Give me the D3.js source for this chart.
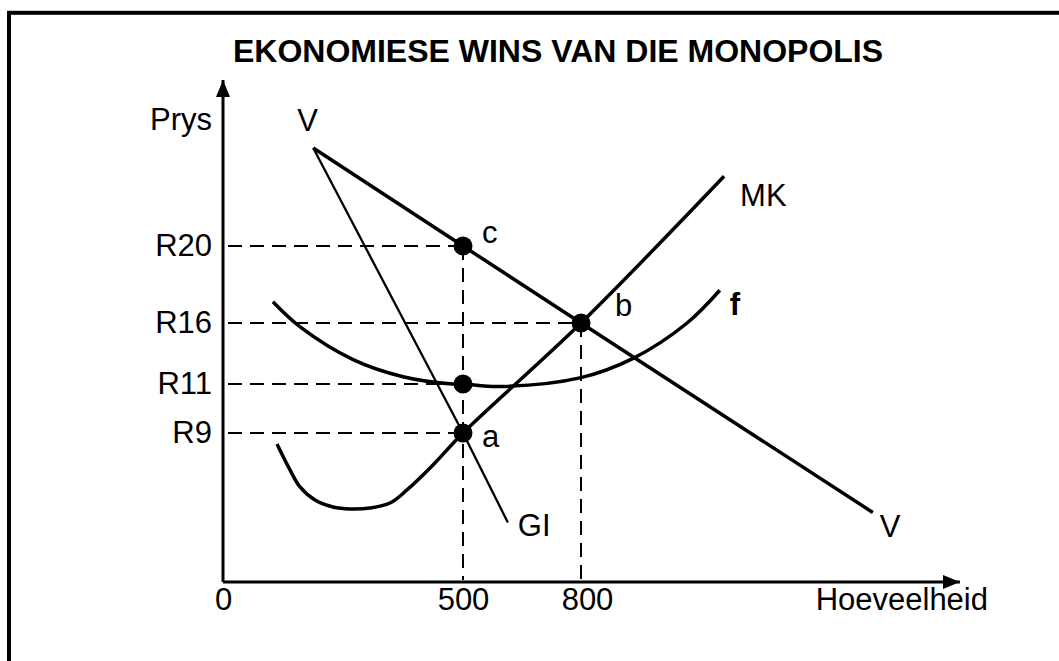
<!DOCTYPE html>
<html><head><meta charset="utf-8">
<script src="https://cdn.jsdelivr.net/npm/d3@7"></script>
<style>body{margin:0;background:#fff;} svg{display:block;}</style>
</head><body><svg id="chart" width="1059" height="661"></svg>
<script>
// ---------- data ----------
const chartTitle = "EKONOMIESE WINS VAN DIE MONOPOLIS";
const xAxisLabel = "Hoeveelheid";
const yAxisLabel = "Prys";
const xTickValues = [0, 500, 800];
const xTickLabels = ["0", "500", "800"];
const yTickValues = [20, 16, 11, 9];
const yTickLabels = ["R20", "R16", "R11", "R9"];
const xMax = 1600, yMax = 30;

// curves as [quantity, price]
const demandV = [[188, 25.9], [500, 20], [800, 16], [1416, 4.2]];
const marginalRevenueGI = [[188, 25.9], [500, 9], [614, 3.6]];
const marginalCostMK = [[112.5, 8.34], [139.6, 6.77], [160.4, 5.74], [191.7, 4.95], [229.2, 4.53], [264.6, 4.41], [306.3, 4.47], [347.9, 4.77], [383.3, 5.56], [437.5, 7.07], [500, 9], [800, 16], [1102, 24.2]];
const averageCostF = [[104, 17.1], [160, 15.7], [271, 13.0], [375, 11.6], [479, 11.0], [500, 11], [594, 10.9], [797, 11.5], [910, 13.1], [1024, 16], [1093, 17.7]];
const keyPoints = [
  {q: 500, p: 20, label: "c"},
  {q: 800, p: 16, label: "b"},
  {q: 500, p: 11, label: ""},
  {q: 500, p: 9, label: "a"}
];

// ---------- drawing ----------
const svg = d3.select("#chart");
const FONT = "'Liberation Sans', Arial, Helvetica, sans-serif";
const FS = 31;

const x = d3.scaleLinear().domain([0, 500, 800, xMax]).range([223, 463, 581, 960]);
const y = d3.scaleLinear().domain([0, 9, 11, 16, 20, yMax]).range([582, 433, 384, 323, 246, 80]);

// frame
svg.append("rect").attr("x", 9).attr("y", 12.8).attr("width", 1200).attr("height", 800)
  .attr("fill", "none").attr("stroke", "#000").attr("stroke-width", 4);

// title
svg.append("text").attr("x", 558).attr("y", 62).attr("text-anchor", "middle")
  .attr("font-family", FONT).attr("font-weight", "bold").attr("font-size", 32)
  .text(chartTitle);

// arrow marker
const defs = svg.append("defs");
defs.append("marker").attr("id", "arrow").attr("viewBox", "0 0 17 14")
  .attr("refX", 17).attr("refY", 7).attr("markerWidth", 17).attr("markerHeight", 14)
  .attr("markerUnits", "userSpaceOnUse").attr("orient", "auto")
  .append("path").attr("d", "M0,0 L17,7 L0,14 Z").attr("fill", "#000");

// axis lines
svg.append("line").attr("x1", x(0)).attr("y1", y(0)).attr("x2", x(xMax)).attr("y2", y(0))
  .attr("stroke", "#000").attr("stroke-width", 3).attr("marker-end", "url(#arrow)");
svg.append("line").attr("x1", x(0)).attr("y1", y(0)).attr("x2", x(0)).attr("y2", y(yMax))
  .attr("stroke", "#000").attr("stroke-width", 3).attr("marker-end", "url(#arrow)");

// axis tick labels via d3 axes
const gx = svg.append("g").attr("transform", `translate(0,${y(0)})`)
  .call(d3.axisBottom(x).tickValues(xTickValues).tickFormat((d, i) => xTickLabels[i]).tickSize(0).tickPadding(6));
const gy = svg.append("g").attr("transform", `translate(${x(0)},0)`)
  .call(d3.axisLeft(y).tickValues(yTickValues).tickFormat((d, i) => yTickLabels[i]).tickSize(0).tickPadding(11));
[gx, gy].forEach(g => {
  g.select(".domain").remove();
  g.attr("font-family", FONT).attr("font-size", FS);
  g.selectAll("text").attr("fill", "#000");
});
gx.selectAll(".tick text").filter(d => d === 800).attr("dx", 6);

// axis titles
svg.append("text").attr("x", 212).attr("y", 130).attr("text-anchor", "end")
  .attr("font-family", FONT).attr("font-size", FS).text(yAxisLabel);
svg.append("text").attr("x", 988).attr("y", 610).attr("text-anchor", "end")
  .attr("font-family", FONT).attr("font-size", FS).text(xAxisLabel);

// dashed guides
const guides = svg.append("g").attr("stroke", "#000").attr("stroke-width", 2)
  .attr("stroke-dasharray", "14,8").attr("fill", "none");
keyPoints.forEach(pt => {
  guides.append("line").attr("x1", x(0) + 5).attr("y1", y(pt.p)).attr("x2", x(pt.q)).attr("y2", y(pt.p));
});
const topByQ = d3.rollups(keyPoints, v => d3.max(v, d => d.p), d => d.q);
topByQ.forEach(([q, p]) => {
  guides.append("line").attr("x1", x(q)).attr("y1", y(p)).attr("x2", x(q)).attr("y2", y(0) - 2);
});

// curves
const straight = d3.line().x(d => x(d[0])).y(d => y(d[1]));
const smooth = d3.line().x(d => x(d[0])).y(d => y(d[1])).curve(d3.curveCatmullRom.alpha(0.5));
const curves = svg.append("g").attr("fill", "none").attr("stroke", "#000")
  .attr("stroke-linejoin", "round");
curves.append("path").attr("d", straight(demandV)).attr("stroke-width", 3.5);
curves.append("path").attr("d", straight(marginalRevenueGI)).attr("stroke-width", 2.3);
curves.append("path").attr("d", smooth(marginalCostMK)).attr("stroke-width", 3.5);
curves.append("path").attr("d", smooth(averageCostF)).attr("stroke-width", 3.5);

// curve labels (anchored at curve ends)
function endLabel(data, idx, dx, dy, txt, bold) {
  const d = data[idx < 0 ? data.length + idx : idx];
  svg.append("text").attr("x", x(d[0]) + dx).attr("y", y(d[1]) + dy)
    .attr("font-family", FONT).attr("font-size", FS)
    .attr("font-weight", bold ? "bold" : "normal").text(txt);
}
endLabel(demandV, 0, -16, -17, "V");
endLabel(demandV, -1, 7, 25, "V");
endLabel(marginalRevenueGI, -1, 10, 14, "GI");
endLabel(marginalCostMK, -1, 16, 30, "MK");
endLabel(averageCostF, -1, 10, 25, "f", true);

// points
const pg = svg.append("g");
pg.selectAll("circle").data(keyPoints).join("circle")
  .attr("cx", d => x(d.q)).attr("cy", d => y(d.p)).attr("r", 9.5).attr("fill", "#000");
const labelOffsets = {c: [19, -3], b: [34, -7], a: [19, 14]};
pg.selectAll("text").data(keyPoints.filter(d => d.label)).join("text")
  .attr("x", d => x(d.q) + labelOffsets[d.label][0])
  .attr("y", d => y(d.p) + labelOffsets[d.label][1])
  .attr("font-family", FONT).attr("font-size", FS).text(d => d.label);
</script>
</body></html>
